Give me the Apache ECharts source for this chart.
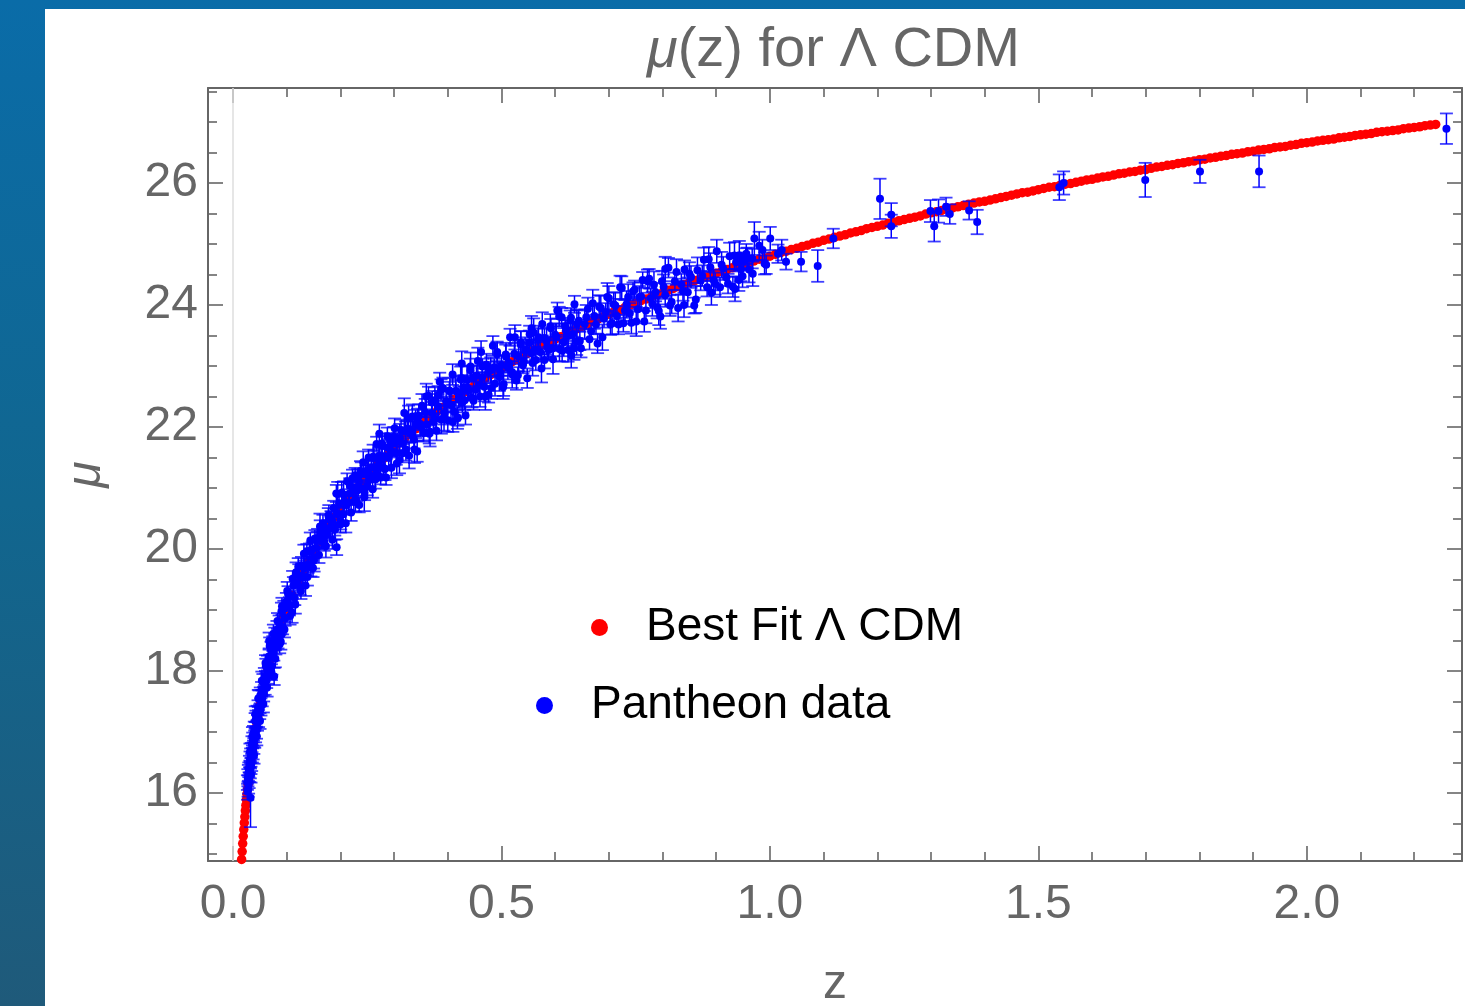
<!DOCTYPE html>
<html>
<head>
<meta charset="utf-8">
<script src="https://cdn.jsdelivr.net/npm/echarts@6/dist/echarts.min.js"></script>
<style>
  html, body { margin: 0; padding: 0; width: 1465px; height: 1006px; overflow: hidden; }
  body { background: linear-gradient(180deg, #0a6ca8 0%, #11668f 50%, #1f5a7a 100%); }
  #panel { position: absolute; left: 45px; top: 9px; width: 1420px; height: 997px; background: #ffffff; }
  #chart { width: 1420px; height: 997px; }
</style>
</head>
<body>
<div id="panel"><div id="chart"></div></div>
<script>
// ---- axis ticks ----
const xMajor = [0, 0.5, 1, 1.5, 2];
const xMinor = [0.1, 0.2, 0.3, 0.4, 0.6, 0.7, 0.8, 0.9, 1.1, 1.2, 1.3, 1.4, 1.6, 1.7, 1.8, 1.9, 2.1, 2.2];
const yMajor = [16, 18, 20, 22, 24, 26];
const yMinor = [15, 15.5, 16.5, 17, 17.5, 18.5, 19, 19.5, 20.5, 21, 21.5, 22.5, 23, 23.5,
                24.5, 25, 25.5, 26.5, 27, 27.5];
const xRange = [-0.0466, 2.289];
const yRange = [14.885, 27.557];

// ---- best fit ΛCDM curve, [z, mu] ----
const fitCurve = [
  [0.016,14.91],[0.017,15.04],[0.018,15.17],[0.019,15.29],[0.020,15.40],[0.021,15.51],[0.022,15.61],
  [0.023,15.71],[0.024,15.80],[0.025,15.89],[0.026,15.98],[0.027,16.06],[0.028,16.14],[0.029,16.22],
  [0.030,16.30],[0.032,16.44],[0.034,16.57],[0.036,16.70],[0.038,16.82],[0.040,16.94],[0.042,17.05],
  [0.044,17.15],[0.046,17.25],[0.048,17.34],[0.050,17.44],[0.055,17.65],[0.060,17.85],[0.065,18.03],
  [0.070,18.20],[0.075,18.36],[0.080,18.50],[0.085,18.64],[0.090,18.77],[0.095,18.90],[0.100,19.02],
  [0.11,19.24],[0.12,19.44],[0.13,19.63],[0.14,19.80],[0.15,19.97],[0.16,20.12],[0.17,20.27],
  [0.18,20.40],[0.19,20.53],[0.20,20.66],[0.21,20.78],[0.22,20.89],[0.23,21.00],[0.24,21.10],
  [0.25,21.20],[0.26,21.30],[0.27,21.39],[0.28,21.48],[0.29,21.57],[0.30,21.66],[0.31,21.74],
  [0.32,21.82],[0.33,21.90],[0.34,21.97],[0.35,22.05],[0.36,22.12],[0.37,22.19],[0.38,22.26],
  [0.39,22.32],[0.40,22.39],[0.41,22.45],[0.42,22.51],[0.43,22.57],[0.44,22.63],[0.45,22.69],
  [0.46,22.75],[0.47,22.80],[0.48,22.86],[0.49,22.91],[0.50,22.96],[0.51,23.01],[0.52,23.07],
  [0.53,23.11],[0.54,23.16],[0.55,23.21],[0.56,23.26],[0.57,23.31],[0.58,23.35],[0.59,23.40],
  [0.60,23.44],[0.61,23.48],[0.62,23.53],[0.63,23.57],[0.64,23.61],[0.65,23.65],[0.66,23.69],
  [0.67,23.73],[0.68,23.77],[0.69,23.81],[0.70,23.85],[0.71,23.89],[0.72,23.92],[0.73,23.96],
  [0.74,24.00],[0.75,24.03],[0.76,24.07],[0.77,24.10],[0.78,24.14],[0.79,24.17],[0.80,24.20],
  [0.81,24.24],[0.82,24.27],[0.83,24.30],[0.84,24.33],[0.85,24.37],[0.86,24.40],[0.87,24.43],
  [0.88,24.46],[0.89,24.49],[0.90,24.52],[0.91,24.55],[0.92,24.58],[0.93,24.61],[0.94,24.64],
  [0.95,24.66],[0.96,24.69],[0.97,24.72],[0.98,24.75],[0.99,24.77],[1.00,24.80],
  [1.01,24.83],[1.02,24.86],[1.03,24.88],[1.04,24.91],[1.05,24.93],[1.06,24.96],[1.07,24.98],
  [1.08,25.01],[1.09,25.03],[1.10,25.06],[1.11,25.08],[1.12,25.11],[1.13,25.13],[1.14,25.15],
  [1.15,25.18],[1.16,25.20],[1.17,25.22],[1.18,25.25],[1.19,25.27],[1.20,25.29],[1.21,25.31],
  [1.22,25.34],[1.23,25.36],[1.24,25.38],[1.25,25.40],[1.26,25.42],[1.27,25.44],[1.28,25.46],
  [1.29,25.49],[1.30,25.51],[1.31,25.53],[1.32,25.55],[1.33,25.57],[1.34,25.59],[1.35,25.61],
  [1.36,25.63],[1.37,25.65],[1.38,25.67],[1.39,25.69],[1.40,25.70],[1.41,25.72],[1.42,25.74],
  [1.43,25.76],[1.44,25.78],[1.45,25.80],[1.46,25.82],[1.47,25.84],[1.48,25.85],[1.49,25.87],
  [1.50,25.89],[1.51,25.91],[1.52,25.93],[1.53,25.94],[1.54,25.96],[1.55,25.98],[1.56,25.99],
  [1.57,26.01],[1.58,26.03],[1.59,26.05],[1.60,26.06],[1.61,26.08],[1.62,26.10],[1.63,26.11],
  [1.64,26.13],[1.65,26.15],[1.66,26.16],[1.67,26.18],[1.68,26.19],[1.69,26.21],[1.70,26.22],
  [1.71,26.24],[1.72,26.26],[1.73,26.27],[1.74,26.29],[1.75,26.30],[1.76,26.32],[1.77,26.33],
  [1.78,26.35],[1.79,26.36],[1.80,26.38],[1.81,26.39],[1.82,26.41],[1.83,26.42],[1.84,26.44],
  [1.85,26.45],[1.86,26.47],[1.87,26.48],[1.88,26.49],[1.89,26.51],[1.90,26.52],[1.91,26.54],
  [1.92,26.55],[1.93,26.56],[1.94,26.58],[1.95,26.59],[1.96,26.60],[1.97,26.62],[1.98,26.63],
  [1.99,26.65],[2.00,26.66],[2.01,26.67],[2.02,26.69],[2.03,26.70],[2.04,26.71],[2.05,26.72],
  [2.06,26.74],[2.07,26.75],[2.08,26.76],[2.09,26.78],[2.10,26.79],[2.11,26.80],[2.12,26.81],
  [2.13,26.83],[2.14,26.84],[2.15,26.85],[2.16,26.86],[2.17,26.87],[2.18,26.89],[2.19,26.90],
  [2.20,26.91],[2.21,26.92],[2.22,26.94],[2.23,26.95],[2.24,26.96]
];

// ---- Pantheon supernovae, [z, mu, sigma] ----
const lowZ = [
  [0.0268,16.17,0.12],[0.0272,16.02,0.13],[0.0277,16.25,0.14],[0.0281,16.06,0.12],[0.0286,16.33,0.13],
  [0.0290,16.14,0.15],[0.0295,16.38,0.12],[0.0300,16.21,0.13],[0.0306,16.47,0.14],[0.0311,16.30,0.12],
  [0.0317,16.55,0.13],[0.0322,16.38,0.14],[0.0326,15.92,0.48],[0.0328,16.61,0.12],[0.0334,16.44,0.13],
  [0.0340,16.70,0.12],[0.0347,16.50,0.14],[0.0353,16.80,0.13],[0.0360,16.62,0.12],[0.0367,16.86,0.13],
  [0.0374,16.69,0.14],[0.0381,16.98,0.12],[0.0388,16.77,0.13],[0.0396,17.05,0.12],[0.0404,16.88,0.14],
  [0.0412,17.18,0.13],[0.0420,16.95,0.12],[0.0429,17.22,0.13],[0.0438,17.03,0.14],[0.0447,17.31,0.12],
  [0.0456,17.15,0.13],[0.0466,17.40,0.12],[0.0476,17.22,0.14],[0.0486,17.55,0.13],[0.0497,17.33,0.12],
  [0.0508,17.60,0.13],[0.0520,17.41,0.14],[0.0532,17.70,0.12],[0.0544,17.55,0.13],[0.0557,17.82,0.13],
  [0.0570,17.62,0.12],[0.0584,17.91,0.14],[0.0598,17.74,0.13],[0.0612,18.08,0.12],[0.0627,17.85,0.13],
  [0.0642,18.13,0.12],[0.0658,17.93,0.14],[0.0673,18.49,0.14],[0.0674,18.24,0.13],[0.0690,18.07,0.12],
  [0.0707,18.35,0.13],[0.0724,18.08,0.14],[0.0742,18.45,0.12],[0.0760,18.30,0.13],[0.0766,17.91,0.14],
  [0.0779,18.58,0.13],[0.0798,18.39,0.12],[0.0818,18.68,0.14],[0.0838,18.50,0.13],[0.0859,18.79,0.12],
  [0.0880,18.58,0.13],[0.0890,18.48,0.13],[0.0902,18.98,0.14],[0.0924,18.72,0.12],[0.0947,19.02,0.13],
  [0.0970,18.86,0.12],[0.0994,19.14,0.14]
];
const lowZWide = [
  [0.0315,16.67,0.14],[0.0335,16.30,0.13],[0.0362,16.93,0.15],[0.0391,16.62,0.14],[0.0415,17.29,0.13],
  [0.0442,16.93,0.15],[0.0471,17.55,0.14],[0.0503,17.18,0.13],[0.0537,17.84,0.15],[0.0565,17.46,0.14],
  [0.0605,18.13,0.13],[0.0635,17.73,0.15],[0.0683,18.41,0.14],[0.0715,17.98,0.13],[0.0752,18.61,0.15],
  [0.0788,18.20,0.14],[0.0828,18.82,0.13],[0.0869,18.44,0.15],[0.0912,19.06,0.14],[0.0958,18.68,0.13],
  [0.1010,19.31,0.15],[0.1062,18.90,0.14],[0.1110,19.51,0.13],[0.1160,19.09,0.15],[0.1215,19.71,0.14],
  [0.1265,19.31,0.13],[0.1320,19.92,0.15],[0.1385,19.54,0.14],[0.1440,20.14,0.13],[0.1490,19.69,0.15]
];
const sdssZ = [
  [0.1025,19.26,0.13],[0.1050,19.06,0.15],[0.1075,19.23,0.12],[0.1100,18.96,0.17],[0.1125,19.40,0.14],
  [0.1150,19.20,0.12],[0.1175,19.62,0.16],[0.1200,19.42,0.13],[0.1225,19.57,0.18],[0.1250,19.37,0.12],
  [0.1275,19.73,0.14],[0.1300,19.53,0.15],[0.1325,19.68,0.13],[0.1350,19.40,0.17],[0.1375,19.96,0.12],
  [0.1400,19.75,0.14],[0.1425,19.96,0.13],[0.1450,19.70,0.15],[0.1475,19.99,0.12],[0.1500,19.85,0.17],
  [0.1525,20.17,0.14],[0.1550,20.02,0.12],[0.1575,20.17,0.16],[0.1600,19.90,0.13],[0.1625,20.29,0.18],
  [0.1650,20.12,0.12],[0.1675,20.42,0.14],[0.1700,20.12,0.15],[0.1725,20.33,0.13],[0.1750,20.23,0.17],
  [0.1775,20.55,0.12],[0.1800,20.33,0.14],[0.1825,20.49,0.13],[0.1850,20.15,0.15],[0.1875,20.67,0.12],
  [0.1900,20.32,0.17],[0.1925,20.91,0.14],[0.1930,20.03,0.13],[0.1950,20.57,0.12],[0.1975,20.75,0.16],
  [0.2000,20.40,0.13],[0.2025,20.92,0.18],[0.2050,20.57,0.12],[0.2075,20.77,0.14],[0.2100,20.42,0.15],
  [0.2125,21.11,0.13],[0.2150,20.76,0.17],[0.2175,21.04,0.12],[0.2200,20.60,0.14],[0.2225,21.01,0.13],
  [0.2250,20.77,0.15],[0.2275,21.21,0.12],[0.2300,20.95,0.17],[0.2325,21.17,0.14],[0.2350,20.72,0.12],
  [0.2375,21.28,0.16],[0.2400,20.98,0.13],[0.2425,21.42,0.18],[0.2450,20.92,0.12],[0.2475,21.23,0.14],
  [0.2500,21.03,0.15],[0.2525,21.50,0.13],[0.2550,21.14,0.17],[0.2575,21.34,0.12],[0.2600,20.98,0.14],
  [0.2625,21.49,0.13],[0.2650,21.14,0.15],[0.2675,21.72,0.12],[0.2700,21.36,0.17],[0.2725,21.53,0.14],
  [0.2726,21.89,0.15],[0.2750,21.18,0.12],[0.2775,21.69,0.16],[0.2800,21.33,0.13],[0.2825,21.52,0.18],
  [0.2850,21.17,0.12],[0.2875,21.85,0.14],[0.2900,21.49,0.15],[0.2925,21.77,0.13],[0.2950,21.33,0.17],
  [0.2975,21.73,0.12]
];
const psZ = [
  [0.1510,19.81,0.18],[0.1565,20.14,0.14],[0.1620,20.37,0.21],[0.1675,20.20,0.16],[0.1730,20.05,0.19],
  [0.1785,20.49,0.23],[0.1840,20.46,0.15],[0.1895,20.39,0.17],[0.1950,20.90,0.20],[0.2005,20.45,0.13],
  [0.2060,20.89,0.22],[0.2115,20.72,0.16],[0.2170,20.91,0.18],[0.2225,21.16,0.14],[0.2280,20.82,0.21],
  [0.2335,21.03,0.16],[0.2390,21.23,0.19],[0.2445,20.85,0.23],[0.2500,21.29,0.15],[0.2555,21.20,0.17],
  [0.2610,21.51,0.20],[0.2665,21.25,0.13],[0.2720,21.43,0.22],[0.2775,21.73,0.16],[0.2830,21.31,0.18],
  [0.2885,21.66,0.14],[0.2940,21.57,0.21],[0.2995,21.84,0.16],[0.3050,21.40,0.19],[0.3105,21.82,0.23],
  [0.3160,21.57,0.15],[0.3215,21.92,0.17],[0.3270,22.15,0.20],[0.3325,21.88,0.13],[0.3380,21.63,0.22],
  [0.3435,22.14,0.16],[0.3490,22.05,0.18],[0.3545,21.92,0.14],[0.3600,22.50,0.21],[0.3655,21.89,0.16],
  [0.3710,22.40,0.19],[0.3765,22.13,0.23],[0.3820,22.33,0.15],[0.3875,22.61,0.17],[0.3930,22.14,0.20],
  [0.3985,22.37,0.13],[0.4040,22.58,0.22],[0.4095,22.08,0.16],[0.4150,22.59,0.18],[0.4205,22.45,0.14],
  [0.4260,22.80,0.21],[0.4315,22.44,0.16],[0.4370,22.64,0.19],[0.4425,22.99,0.23],[0.4480,22.43,0.15],
  [0.4535,22.84,0.17],[0.4590,22.69,0.20],[0.4645,22.99,0.13],[0.4700,22.50,0.22],[0.4755,22.91,0.16],
  [0.4810,22.64,0.18],[0.4865,22.98,0.14],[0.4920,23.19,0.21],[0.4975,22.91,0.16],[0.5030,22.65,0.19],
  [0.5085,23.15,0.23],[0.5140,23.05,0.15],[0.5195,22.90,0.17],[0.5250,23.47,0.20],[0.5305,22.85,0.13],
  [0.5360,23.35,0.22],[0.5415,23.07,0.16],[0.5470,23.26,0.18],[0.5525,23.52,0.14],[0.5580,23.05,0.21],
  [0.5635,23.27,0.16],[0.5690,23.47,0.19],[0.5745,22.96,0.23],[0.5800,23.46,0.15],[0.5855,23.31,0.17],
  [0.5910,23.65,0.20],[0.5965,23.29,0.13],[0.6020,23.48,0.22],[0.6075,23.81,0.16],[0.6130,23.25,0.18],
  [0.6185,23.65,0.14],[0.6240,23.49,0.21],[0.6295,23.79,0.16],[0.6350,23.29,0.19],[0.6405,23.69,0.23],
  [0.6460,23.41,0.15]
];
const midZ = [
  [0.301,21.98,0.16],[0.304,21.57,0.19],[0.307,21.76,0.14],[0.310,21.46,0.22],[0.313,21.95,0.17],
  [0.316,21.73,0.15],[0.319,22.23,0.24],[0.322,21.63,0.18],[0.325,21.97,0.13],[0.328,21.53,0.21],
  [0.331,21.93,0.16],[0.334,22.17,0.20],[0.337,21.80,0.15],[0.340,22.05,0.23],[0.343,21.60,0.17],
  [0.346,22.18,0.19],[0.349,22.01,0.16],[0.352,22.35,0.19],[0.355,21.90,0.14],[0.358,22.24,0.22],
  [0.361,22.04,0.17],[0.364,22.51,0.15],[0.367,21.92,0.24],[0.370,22.23,0.18],[0.373,22.08,0.13],
  [0.376,22.44,0.21],[0.379,21.94,0.16],[0.382,22.34,0.20],[0.382,22.52,0.15],[0.385,22.74,0.15],
  [0.388,22.12,0.23],[0.391,22.64,0.17],[0.394,22.23,0.19],[0.397,22.42,0.16],[0.400,22.11,0.19],
  [0.403,22.60,0.14],[0.406,22.36,0.22],[0.409,22.86,0.17],[0.412,22.25,0.15],[0.415,22.59,0.24],
  [0.418,22.15,0.18],[0.419,22.15,0.13],[0.421,22.54,0.13],[0.424,22.78,0.21],[0.426,23.04,0.20],
  [0.427,22.40,0.16],[0.430,22.65,0.20],[0.433,22.19,0.15],[0.436,22.77,0.23],[0.439,22.60,0.17],
  [0.442,22.93,0.19],[0.445,22.48,0.16],[0.448,22.81,0.19],
  [0.452,22.61,0.14],[0.456,23.08,0.22],[0.460,22.50,0.17],[0.462,23.23,0.18],[0.464,22.81,0.15],
  [0.468,22.66,0.24],[0.472,23.02,0.18],[0.476,22.53,0.13],[0.480,22.93,0.21],[0.484,23.33,0.16],
  [0.488,22.71,0.20],[0.492,23.23,0.15],[0.496,22.82,0.23],[0.500,23.01,0.17],[0.504,22.70,0.19],
  [0.508,23.19,0.16],[0.512,22.97,0.19],[0.516,23.47,0.14],[0.520,22.86,0.22],[0.524,23.20,0.17],
  [0.528,22.76,0.15],[0.532,23.15,0.24],[0.536,23.39,0.18],[0.540,23.01,0.13],[0.544,23.26,0.21],
  [0.548,22.80,0.16],[0.552,23.38,0.20],[0.556,23.21,0.15],[0.556,23.62,0.20],[0.560,23.55,0.23],
  [0.564,23.10,0.17],[0.568,23.43,0.19],[0.572,23.23,0.16],[0.576,23.69,0.19],[0.580,23.10,0.14],
  [0.584,23.41,0.22],[0.588,23.26,0.17],[0.592,23.62,0.15],[0.596,23.11,0.24],[0.600,23.51,0.18],
  [0.604,23.91,0.13],[0.608,23.28,0.20],[0.612,23.80,0.15],[0.616,23.39,0.23],[0.620,23.58,0.17],
  [0.624,23.26,0.19],[0.628,23.75,0.16],[0.630,23.17,0.20],[0.632,23.52,0.19],[0.636,24.01,0.14],
  [0.640,23.40,0.22],[0.644,23.74,0.17],[0.648,23.29,0.15]
];
const snlsZ = [
  [0.658,23.80,0.20],[0.664,23.44,0.17],[0.670,24.03,0.22],[0.676,23.68,0.16],[0.682,23.97,0.19],
  [0.688,23.47,0.21],[0.694,23.88,0.15],[0.700,24.11,0.20],[0.706,23.70,0.18],[0.712,23.99,0.22],
  [0.718,23.68,0.16],[0.724,24.28,0.19],[0.730,23.91,0.17],[0.736,24.13,0.21],[0.742,23.71,0.18],
  [0.748,24.25,0.15],[0.754,23.93,0.20],[0.760,24.14,0.23],[0.766,23.73,0.17],[0.772,24.39,0.19],
  [0.778,24.11,0.16],[0.784,24.33,0.22],[0.790,23.96,0.18],[0.802,24.30,0.20],[0.814,23.99,0.17],
  [0.826,24.54,0.21],[0.838,24.23,0.16],[0.850,24.51,0.19],[0.862,24.09,0.22],[0.874,24.48,0.17],
  [0.886,24.75,0.20],[0.898,24.35,0.18],[0.910,24.66,0.21],[0.922,24.35,0.16],[0.934,24.81,0.22],
  [0.946,24.58,0.19],[0.958,24.77,0.17],[0.968,24.51,0.20],[0.980,24.97,0.23],[0.990,24.68,0.18]
];
const highZ = [
  [0.655,23.69,0.24],[0.661,23.94,0.18],[0.667,23.57,0.13],[0.673,23.82,0.21],[0.679,23.37,0.16],
  [0.685,23.95,0.20],[0.691,23.78,0.15],[0.697,24.13,0.23],[0.703,23.68,0.17],[0.709,24.01,0.19],
  [0.715,23.82,0.16],[0.721,24.29,0.19],[0.727,23.70,0.14],[0.733,24.01,0.22],[0.739,23.86,0.17],
  [0.745,24.22,0.15],[0.751,23.73,0.24],[0.757,24.13,0.18],[0.763,24.41,0.13],[0.769,23.91,0.21],
  [0.775,24.43,0.16],[0.781,24.02,0.20],[0.787,24.21,0.15],[0.793,23.90,0.23],[0.796,23.81,0.20],
  [0.799,24.39,0.17],[0.805,24.16,0.19],[0.805,24.59,0.20],[0.811,24.61,0.16],[0.817,24.05,0.19],
  [0.823,24.39,0.14],[0.829,23.95,0.22],[0.835,24.34,0.17],[0.840,24.00,0.20],[0.841,24.58,0.15],
  [0.847,24.21,0.24],[0.853,24.46,0.18],[0.859,23.99,0.13],[0.865,24.57,0.21],[0.871,24.40,0.16],
  [0.877,24.74,0.20],[0.883,24.29,0.15],[0.889,24.62,0.23],[0.891,24.20,0.20],[0.895,24.41,0.17],
  [0.901,24.88,0.19],[0.907,24.29,0.16],[0.913,24.60,0.19],[0.919,24.45,0.14],[0.925,24.80,0.22],
  [0.931,24.30,0.17],[0.935,24.26,0.20],[0.937,24.70,0.15],[0.942,24.41,0.18],[0.943,24.81,0.24],
  [0.949,24.47,0.18],[0.951,24.72,0.14],[0.955,24.80,0.13],[0.956,24.84,0.16],[0.961,24.58,0.21],
  [0.967,24.76,0.16],[0.971,25.09,0.27],[0.986,24.90,0.17],[0.993,24.66,0.15],[1.0006,25.09,0.19],
  [1.015,24.84,0.15],[1.022,24.90,0.17],[1.030,24.71,0.13],[1.058,24.71,0.16],[1.089,24.64,0.26],
  [1.118,25.09,0.16],[1.205,25.74,0.33],[1.226,25.48,0.19],[1.226,25.29,0.19],[1.299,25.54,0.18],
  [1.306,25.29,0.25],[1.314,25.54,0.19],[1.328,25.61,0.15],[1.335,25.49,0.16],[1.371,25.55,0.15],
  [1.386,25.36,0.20],[1.539,25.93,0.21],[1.547,26.00,0.19],[1.699,26.05,0.28],[1.801,26.19,0.19],
  [1.911,26.19,0.26],[2.260,26.89,0.25]
];
const pantheon = [].concat(lowZ, lowZWide, sdssZ, psZ, midZ, snlsZ, highZ);

const FONT = "'Liberation Sans', Arial, Helvetica, sans-serif";
const GRAY = '#666666';

function frameAxis(dim, position, ticks, len, showLine, showLabel) {
  const range = dim === 'x' ? xRange : yRange;
  return {
    type: 'value',
    position: position,
    min: range[0],
    max: range[1],
    splitLine: { show: false },
    axisLine: { show: showLine, onZero: false, lineStyle: { color: GRAY, width: 2 } },
    axisTick: { show: true, inside: true, length: len, customValues: ticks,
                lineStyle: { color: GRAY, width: 1.6 } },
    axisLabel: showLabel ? {
      show: true, customValues: ticks, color: GRAY, fontSize: 48, fontFamily: FONT,
      margin: dim === 'x' ? 20 : 10,
      formatter: v => dim === 'x' ? v.toFixed(1) : String(Math.round(v))
    } : { show: false }
  };
}

const xAxes = [
  Object.assign(frameAxis('x', 'bottom', xMajor, 15, true, true), {
    name: 'z', nameLocation: 'middle', nameGap: 100, nameMoveOverlap: false,
    nameTextStyle: { color: GRAY, fontSize: 48, fontFamily: FONT }
  }),
  frameAxis('x', 'bottom', xMinor, 9, false, false),
  frameAxis('x', 'top', xMajor, 15, true, false),
  frameAxis('x', 'top', xMinor, 9, false, false)
];
const yAxes = [
  Object.assign(frameAxis('y', 'left', yMajor, 15, true, true), {
    name: 'μ', nameLocation: 'middle', nameGap: 97, nameRotate: 90, nameMoveOverlap: false,
    nameTextStyle: { color: GRAY, fontSize: 48, fontStyle: 'italic', fontFamily: FONT }
  }),
  frameAxis('y', 'left', yMinor, 9, false, false),
  frameAxis('y', 'right', yMajor, 15, true, false),
  frameAxis('y', 'right', yMinor, 9, false, false)
];

function renderErrorBar(params, api) {
  const z = api.value(0), mu = api.value(1), e = api.value(2);
  const hi = api.coord([z, mu + e]);
  const lo = api.coord([z, mu - e]);
  const cap = 6.5;
  const capStyle = { stroke: 'rgba(0,0,255,0.75)', lineWidth: 1.8 };
  return {
    type: 'group',
    children: [
      { type: 'line', shape: { x1: hi[0], y1: hi[1], x2: lo[0], y2: lo[1] },
        style: { stroke: '#0000ff', lineWidth: 1.5 } },
      { type: 'line', shape: { x1: hi[0] - cap, y1: hi[1], x2: hi[0] + cap, y2: hi[1] }, style: capStyle },
      { type: 'line', shape: { x1: lo[0] - cap, y1: lo[1], x2: lo[0] + cap, y2: lo[1] }, style: capStyle }
    ]
  };
}

const legendText = { color: '#000', fontSize: 46, fontFamily: FONT, lineHeight: 50, padding: [7, 0, 0, 33] };

const chart = echarts.init(document.getElementById('chart'), null, { renderer: 'canvas' });
chart.setOption({
  animation: false,
  backgroundColor: '#ffffff',
  title: {
    text: '{i|μ}(z) for Λ CDM',
    left: 602, top: 14, padding: 0,
    textStyle: {
      color: GRAY, fontSize: 56, fontWeight: 'normal', fontFamily: FONT,
      rich: { i: { color: GRAY, fontSize: 56, fontStyle: 'italic', fontFamily: FONT } }
    }
  },
  legend: [
    {
      data: [{ name: 'Best Fit Λ CDM', icon: 'circle' }],
      left: 546, top: 590, padding: 0, itemWidth: 17, itemHeight: 17, selectedMode: false,
      textStyle: legendText
    },
    {
      data: [{ name: 'Pantheon data', icon: 'circle' }],
      left: 491, top: 668, padding: 0, itemWidth: 17, itemHeight: 17, selectedMode: false,
      textStyle: legendText
    }
  ],
  grid: { left: 163, right: 3, top: 79, bottom: 145, containLabel: false, outerBoundsMode: 'none' },
  xAxis: xAxes,
  yAxis: yAxes,
  series: [
    {
      name: 'Best Fit Λ CDM',
      type: 'scatter',
      xAxisIndex: 0, yAxisIndex: 0,
      data: fitCurve,
      symbol: 'circle', symbolSize: 9.5,
      itemStyle: { color: '#ff0000', opacity: 1 },
      clip: true, z: 2, silent: true,
      markLine: {
        silent: true, symbol: 'none', label: { show: false },
        lineStyle: { color: '#dedede', width: 1.5, type: 'solid' },
        data: [{ xAxis: 0 }]
      }
    },
    {
      name: 'Pantheon errors',
      type: 'custom',
      xAxisIndex: 0, yAxisIndex: 0,
      data: pantheon,
      dimensions: ['z', 'mu', 'sigma'],
      encode: { x: 0, y: 1 },
      renderItem: renderErrorBar,
      clip: true, z: 3, silent: true
    },
    {
      name: 'Pantheon data',
      type: 'scatter',
      xAxisIndex: 0, yAxisIndex: 0,
      data: pantheon,
      symbol: 'circle', symbolSize: 8,
      itemStyle: { color: '#0000ff', opacity: 1 },
      clip: true, z: 4, silent: true
    }
  ]
});
</script>
</body>
</html>
